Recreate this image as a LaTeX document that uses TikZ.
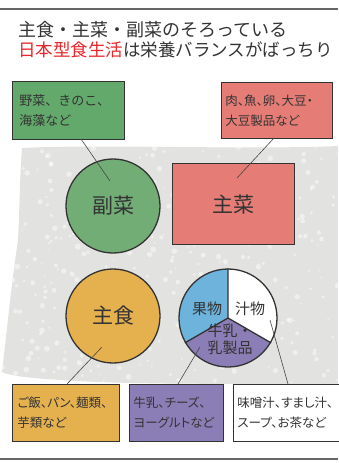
\documentclass[tikz,border=0pt]{standalone}
\usepackage{fontspec}
\setmainfont{Noto Sans CJK JP}
\newfontfamily\jpp[RawFeature=+palt]{Noto Sans CJK JP}
\usetikzlibrary{calc}
\definecolor{ink}{HTML}{333333}
\definecolor{tred}{HTML}{E8262A}
\definecolor{fgreen}{HTML}{63A96B}
\definecolor{cgreen}{HTML}{72AD76}
\definecolor{fred}{HTML}{E57C75}
\definecolor{forange}{HTML}{E5B04E}
\definecolor{fpurple}{HTML}{8B7DB5}
\definecolor{fblue}{HTML}{6DB3DC}
\definecolor{lace}{HTML}{E2E2E0}
\tikzset{
  lbl/.style={draw=ink, line width=0.9pt, rectangle, anchor=north west, align=left,
    inner ysep=0pt, text=ink, font=\jpp\fontsize{12.5}{20}\selectfont},
  bigc/.style={circle, draw=ink, line width=1.3pt, text=ink, font=\fontsize{21}{24}\selectfont},
  conn/.style={draw=ink!90, line width=0.6pt},
}
\begin{document}
\begin{tikzpicture}[x=1pt,y=-1pt]
\useasboundingbox (0,0) rectangle (338,463);
% lace background
\begin{scope}
\path[clip] (22,148) .. controls (100,144) and (250,150) .. (338,146) -- (338,386)
  .. controls (250,382) and (150,386) .. (60,380) .. controls (30,378) and (10,376) .. (2,372)
  .. controls (8,320) and (12,280) .. (18,240) .. controls (20,200) and (20,170) .. (22,148) -- cycle;
\fill[lace] (0,140) rectangle (338,390);
\pgfmathsetseed{7}
\foreach \i in {1,...,420} {
  \pgfmathsetmacro{\px}{rnd*338}
  \pgfmathsetmacro{\py}{140+rnd*250}
  \pgfmathsetmacro{\pr}{0.8+rnd*2.2}
  \fill[white, opacity=0.45] (\px,\py) circle[radius=\pr pt];
}
\end{scope}
% rules
\draw[gray!80!black, line width=1.2pt] (0,9) -- (338,9);
\draw[gray!80!black, line width=1.2pt] (0,459) -- (338,459);
% title
\node[anchor=west, inner sep=0pt, text=ink, font=\fontsize{18}{20}\selectfont] (t1) at (18,30) {主食・主菜・副菜のそろっている};
\node[anchor=west, inner sep=0pt, text=ink, font=\fontsize{17.5}{20}\selectfont] (t2) at (18,50) {\textcolor{tred}{日本型食生活}は栄養バランスがばっちり};
% top boxes
\node[lbl, font=\fontsize{13}{20}\selectfont, fill=fgreen, minimum width=110pt, minimum height=58pt, text width=98pt, inner xsep=7pt] (gbox) at (12,81) {野菜、きのこ、\\海藻など};
\node[lbl, fill=fred, minimum width=111pt, minimum height=56pt, text width=103pt, inner xsep=4pt] (rbox) at (221,82) {肉、魚、卵、大豆・\\大豆製品など};
% main shapes
\node[bigc, fill=cgreen, minimum size=94pt] (fuku) at (113,206) {副菜};
\node[rectangle, draw=ink, line width=1.3pt, fill=fred, anchor=north west, minimum width=122pt, minimum height=81pt, text=ink, font=\fontsize{21}{24}\selectfont] (shu) at (172,163) {主菜};
\node[bigc, fill=forange, minimum size=94pt] (shoku) at (113,316) {主食};
% pie
\coordinate (pc) at (228,318);
\fill[fblue] (pc) -- ++(90:49pt) arc[start angle=90, end angle=210, radius=49pt] -- cycle;
\fill[fpurple] (pc) -- ++(210:49pt) arc[start angle=210, end angle=330, radius=49pt] -- cycle;
\fill[white] (pc) -- ++(330:49pt) arc[start angle=330, end angle=450, radius=49pt] -- cycle;
\node[circle, draw=ink, line width=1.3pt, minimum size=98pt, inner sep=0pt] (pie) at (pc) {};
\draw[ink, line width=1.3pt] (pie.center) -- (pie.90) (pie.center) -- (pie.210) (pie.center) -- (pie.330);
\node[text=ink, font=\fontsize{15}{17}\selectfont, inner sep=0pt] (kuda) at (207,309) {果物};
\node[text=ink, font=\fontsize{15}{17}\selectfont, inner sep=0pt] (shiru) at (250,309) {汁物};
\node[text=ink, font=\fontsize{15}{17}\selectfont, inner sep=0pt, align=center] (milk) at (230,339) {牛乳・\\乳製品};
% bottom boxes
\node[lbl, fill=forange, minimum width=107pt, minimum height=57pt, text width=97pt, inner xsep=5pt] (obox) at (12,384) {ご飯、パン、麺類、\\芋類など};
\node[lbl, fill=fpurple, minimum width=94pt, minimum height=57pt, text width=86pt, inner xsep=4pt] (pbox) at (129,384) {牛乳、チーズ、\\ヨーグルトなど};
\node[lbl, fill=white, minimum width=108pt, minimum height=57pt, text width=100pt, inner xsep=4pt] (wbox) at (233,384) {味噌汁、すまし汁、\\スープ、お茶など};
% connectors
\coordinate (g1) at (81,139); \coordinate (g2) at (110,181);
\coordinate (r1) at (274,138); \coordinate (r2) at (237,178);
\coordinate (o1) at (67,384); \coordinate (o2) at (102,347);
\coordinate (p1) at (178,384); \coordinate (p2) at (200,347);
\coordinate (w1) at (288,384); \coordinate (w2) at (270,320);
\draw[conn] (g1) -- (g2);
\draw[conn] (r1) -- (r2);
\draw[conn] (o1) -- (o2);
\draw[conn] (p1) -- (p2);
\draw[conn] (w1) -- (w2);
\end{tikzpicture}
\end{document}
